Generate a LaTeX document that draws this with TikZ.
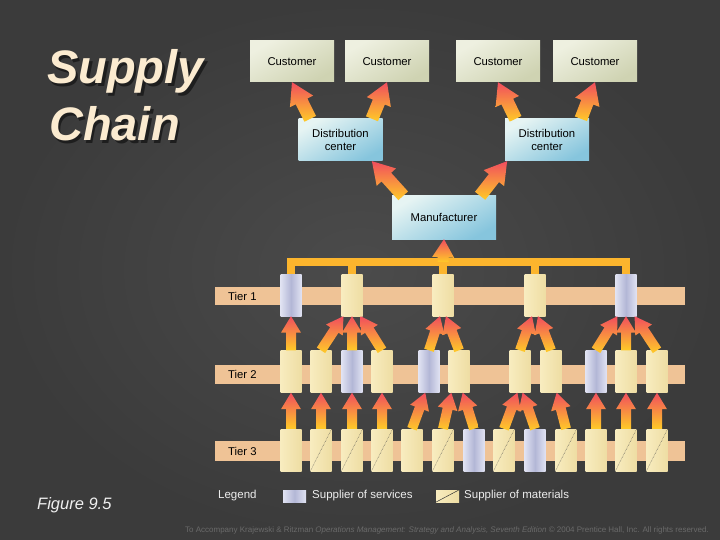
\documentclass[tikz,border=0pt]{standalone}
\usepackage{fontspec}
\setmainfont{Liberation Sans}
\usetikzlibrary{calc}
\definecolor{bgin}{HTML}{4B4B4B}
\definecolor{bgout}{HTML}{3B3B3B}
\definecolor{titlecream}{HTML}{FBEBD0}
\definecolor{titleshadow}{HTML}{1E1E1E}
\definecolor{custtop}{HTML}{EEF0E0}
\definecolor{custbot}{HTML}{CFD3B2}
\definecolor{dctop}{HTML}{E6F4F3}
\definecolor{dcbot}{HTML}{86C5DD}
\definecolor{servlight}{HTML}{E0E2F2}
\definecolor{servdark}{HTML}{B3B7D6}
\definecolor{matlight}{HTML}{F8ECBF}
\definecolor{matdark}{HTML}{EEDDA3}
\definecolor{bandpeach}{HTML}{EFC396}
\definecolor{arrowtip}{HTML}{F14D5E}
\definecolor{arrowmid}{HTML}{FA9A38}
\definecolor{arrowbase}{HTML}{FFCB27}
\definecolor{busyellow}{HTML}{FCB52D}
\definecolor{footgray}{HTML}{6A6A6A}
% fat shaded arrow: [half shaft width]{from}{to}
\newcommand{\fatarrow}[3][5]{%
  \pgfmathsetmacro{\ahw}{2*#1}\pgfmathsetmacro{\ahl}{3.3*#1}%
  \coordinate (neck) at ($(#3)!\ahl pt!(#2)$);
  \shade[arrowshade] ($(#2)!#1pt!90:(#3)$) -- ($(neck)!#1pt!90:(#3)$) -- ($(neck)!\ahw pt!90:(#3)$) -- (#3)
    -- ($(neck)!\ahw pt!-90:(#3)$) -- ($(neck)!#1pt!-90:(#3)$) -- ($(#2)!#1pt!-90:(#3)$) -- cycle;}
% title word with its drop shadow
\newcommand{\shadowed}[1]{\makebox[0pt][l]{\hspace{2.5pt}\raisebox{-2.5pt}{\color{titleshadow}#1}}#1}
\begin{document}
\begin{tikzpicture}[x=1pt,y=-1pt,
  labeltext/.style={font=\fontsize{11.3}{13}\selectfont,text=black},
  custbox/.style={rectangle,minimum width=84pt,minimum height=41pt,inner sep=0pt,top color=custtop,bottom color=custbot,shading angle=30,labeltext},
  dcbox/.style={rectangle,minimum width=84pt,minimum height=42pt,inner sep=0pt,top color=dctop,bottom color=dcbot,shading angle=30,align=center,labeltext},
  tierbox/.style={rectangle,minimum width=21pt,minimum height=42pt,inner sep=0pt},
  servbox/.style={tierbox,left color=servlight,right color=servlight,middle color=servdark},
  matbox/.style={tierbox,left color=matlight,right color=matdark},
  tierband/.style={fill=bandpeach},
  matline/.style={densely dotted,line width=0.5pt,draw=black!70},
  busline/.style={line width=8pt,draw=busyellow},
  arrowshade/.style={bottom color=arrowbase,middle color=arrowmid,top color=arrowtip},
  titletext/.style={font=\fontsize{47}{50}\selectfont\bfseries\itshape,text=titlecream,inner sep=0pt,anchor=base west},
  legendtext/.style={font=\fontsize{11.5}{13}\selectfont,text=white!93!black,anchor=west,inner sep=0pt}]
% background
\shade[inner color=bgin,outer color=bgout] (0,0) rectangle (720,540);
\useasboundingbox (0,0) rectangle (720,540);

% title
\node[titletext] (title1) at (47,84) {\shadowed{Supply}};
\node[titletext] (title2) at (49,141) {\shadowed{Chain}};

% customers, distribution centers, manufacturer
\node[custbox] (c1) at (292,61.5) {Customer};
\node[custbox] (c2) at (387,61.5) {Customer};
\node[custbox] (c3) at (498,61.5) {Customer};
\node[custbox] (c4) at (595,61.5) {Customer};
\node[dcbox] (dc1) at (340.5,140) {Distribution\\center};
\node[dcbox] (dc2) at (547,140) {Distribution\\center};
\node[dcbox,minimum width=104pt,minimum height=43pt] (manu) at (444,217.5) {Manufacturer};

\fatarrow[6.5]{dc1.145}{c1.south}
\fatarrow[6.5]{dc1.34}{c2.south}
\fatarrow[6.5]{dc2.146}{c3.south}
\fatarrow[6.5]{dc2.32}{c4.south}
\fatarrow[6.5]{manu.152}{dc1.-34}
\fatarrow[6.5]{manu.31}{dc2.-152}

% tier bands
\fill[tierband] (215,287) rectangle (685,305);
\fill[tierband] (215,365) rectangle (685,384);
\fill[tierband] (215,441) rectangle (685,461);
\node[labeltext,anchor=west,inner sep=0pt] (tier1) at (228,296) {Tier 1};
\node[labeltext,anchor=west,inner sep=0pt] (tier2) at (228,374) {Tier 2};
\node[labeltext,anchor=west,inner sep=0pt] (tier3) at (228,451) {Tier 3};

% suppliers
\foreach \n/\x/\s in {1/291/servbox,2/352/matbox,3/443/matbox,4/535/matbox,5/626/servbox}
  \node[\s] (t1-\n) at (\x,295) {};
\foreach \n/\x/\s in {1/291/matbox,2/321/matbox,3/352/servbox,4/382/matbox,5/429/servbox,6/459/matbox,
    7/520/matbox,8/551/matbox,9/596/servbox,10/626/matbox,11/657/matbox}
  \node[\s] (t2-\n) at (\x,371.5) {};
\foreach \n/\x/\s in {1/291/matbox,2/321/matbox,3/352/matbox,4/382/matbox,5/412/matbox,6/443/matbox,7/474/servbox,
    8/504/matbox,9/535/servbox,10/566/matbox,11/596/matbox,12/626/matbox,13/657/matbox}
  \node[\s] (t3-\n) at (\x,450) {};
\foreach \n in {2,3,4,6,8,10,12,13}
  \draw[matline] (t3-\n.south west) -- (t3-\n.north east);

% tier 1 to manufacturer
\coordinate (busmid) at (443,262);
\draw[busline] (t1-1.north) |- (busmid) -| (t1-5.north);
\foreach \n in {2,3,4}
  \draw[busline] (t1-\n.north) -- (t1-\n.north |- busmid);
\fatarrow[5.5]{busmid}{manu.south}

% tier 2 to tier 1
\fatarrow{t2-1.north}{t1-1.south}
\fatarrow{t2-2.north}{t1-2.-112}
\fatarrow{t2-4.north}{t1-2.-68}
\fatarrow{t2-3.north}{t1-2.south}
\fatarrow{t2-5.north}{t1-3.-98}
\fatarrow{t2-6.north}{t1-3.-82}
\fatarrow{t2-7.north}{t1-4.-98}
\fatarrow{t2-8.north}{t1-4.-82}
\fatarrow{t2-9.north}{t1-5.-112}
\fatarrow{t2-11.north}{t1-5.-68}
\fatarrow{t2-10.north}{t1-5.south}

% tier 3 to tier 2
\foreach \a/\b in {1/1,2/2,3/3,4/4,11/9,12/10,13/11}{
  \fatarrow{t3-\a.north}{t2-\b.south}
}
\fatarrow{t3-5.north}{t2-5.-100}
\fatarrow{t3-6.north}{t2-6.-110}
\fatarrow{t3-7.north}{t2-6.-80}
\fatarrow{t3-8.north}{t2-7.-97}
\fatarrow{t3-9.north}{t2-7.-83}
\fatarrow{t3-10.north}{t2-8.-75}

% legend
\node[legendtext] (legend) at (218,496) {Legend};
\node[servbox,minimum width=23pt,minimum height=12pt] (legserv) at (294.5,496) {};
\node[legendtext] (legservtext) at (312,496) {Supplier of services};
\node[matbox,minimum width=23pt,minimum height=12pt] (legmat) at (447.5,496) {};
\draw[black!80,line width=0.5pt] (legmat.south west) -- (legmat.north east);
\node[legendtext] (legmattext) at (464,496) {Supplier of materials};

\node[font=\fontsize{16.5}{19}\selectfont\itshape,text=white!94!black,anchor=west,inner sep=0pt] (figno) at (37,505) {Figure 9.5};
\node[font=\fontsize{8}{9}\selectfont,text=footgray,anchor=east,inner sep=0pt] (footer) at (709,530)
  {To Accompany Krajewski \& Ritzman \textit{Operations Management: Strategy and Analysis, Seventh Edition} \textcopyright\ 2004 Prentice Hall, Inc. All rights reserved.};
\end{tikzpicture}
\end{document}
